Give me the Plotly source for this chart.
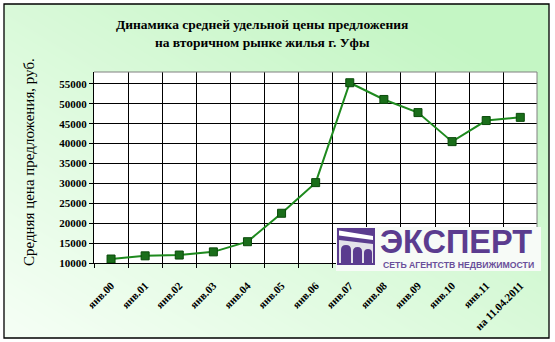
import base64, struct, zlib
import plotly.graph_objects as go

# ---------------- data ----------------
categories = ["янв.00", "янв.01", "янв.02", "янв.03", "янв.04", "янв.05", "янв.06",
              "янв.07", "янв.08", "янв.09", "янв.10", "янв.11", "на 11.04.2011"]
prices = [11000, 11800, 12000, 12800, 15350, 22500, 30200,
          55300, 51100, 47800, 40500, 45800, 46600]
y_ticks = [10000, 15000, 20000, 25000, 30000, 35000, 40000, 45000, 50000, 55000]

title_lines = ["Динамика средней удельной цены предложения",
               "на вторичном рынке жилья г. Уфы"]
y_title = "Средняя цена предложения, руб."

# ---------------- geometry helpers ----------------
W, H = 555, 342
PL, PR, PT, PB = 94, 537, 72, 263
FX0, FX1, FY0, FY1 = 4, 549, 4, 338


def px(x):
    return (x - PL) / (PR - PL)


def py(y):
    return (PB - y) / (PB - PT)


# ---------------- gradient background png (white hole for plot area) ----------------
def make_png():
    w, h = FX1 - FX0, FY1 - FY0
    c0 = (246, 255, 246)
    c1 = (196, 246, 196)
    rows = []
    for j in range(h):
        row = bytearray([0])
        ay = FY0 + j
        for i in range(w):
            ax = FX0 + i
            if PL <= ax < PR and PT <= ay < PB:
                row += b"\xff\xff\xff"
                continue
            t = 0.5 * (i / (w - 1)) + 0.5 * (1 - j / (h - 1))
            t = min(1.0, max(0.0, t * 1.15))
            row += bytes(int(c0[k] + (c1[k] - c0[k]) * t) for k in range(3))
        rows.append(bytes(row))
    raw = b"".join(rows)

    def chunk(tag, data):
        return struct.pack(">I", len(data)) + tag + data + struct.pack(">I", zlib.crc32(tag + data) & 0xffffffff)

    return (b"\x89PNG\r\n\x1a\n" + chunk(b"IHDR", struct.pack(">IIBBBBB", w, h, 8, 2, 0, 0, 0))
            + chunk(b"IDAT", zlib.compress(raw, 9)) + chunk(b"IEND", b""))


bg_src = "data:image/png;base64," + base64.b64encode(make_png()).decode()

serif = "Liberation Serif"
sans = "Liberation Sans"
purple = "#5b3c8f"

x_idx = list(range(len(categories)))

fig = go.Figure()
fig.add_trace(go.Scatter(
    x=x_idx, y=prices, mode="lines+markers",
    line=dict(color="#1e8a1e", width=2),
    marker=dict(symbol="square", size=8, color="#1a6e1a", line=dict(color="#0a4a0a", width=1)),
    hoverinfo="skip", showlegend=False,
))

shapes = []
# outer frame
shapes.append(dict(type="rect", xref="paper", yref="paper", x0=px(FX0), x1=px(FX1), y0=py(FY1), y1=py(FY0),
                   line=dict(color="black", width=1.3), layer="above"))
# plot area border (top, right)
shapes.append(dict(type="line", xref="paper", yref="paper", x0=0, x1=1, y0=1, y1=1,
                   line=dict(color="#808080", width=1), layer="above"))
shapes.append(dict(type="line", xref="paper", yref="paper", x0=1, x1=1, y0=0, y1=1,
                   line=dict(color="#808080", width=1), layer="above"))

# ---- logo ----
shapes.append(dict(type="rect", xref="paper", yref="paper", x0=px(336), x1=px(541), y0=py(271), y1=py(227),
                   fillcolor="#f7fbf7", line=dict(width=0), layer="above"))
shapes.append(dict(type="rect", xref="paper", yref="paper", x0=px(337), x1=px(375), y0=py(265), y1=py(228),
                   fillcolor=purple, line=dict(width=0), layer="above"))


def path(points):
    return "M " + " L ".join(f"{px(a):.5f},{py(b):.5f}" for a, b in points) + " Z"


shapes.append(dict(type="path", xref="paper", yref="paper",
                   path=path([(339, 230.5), (373, 236), (373, 240), (339, 235.5)]),
                   fillcolor="#ffffff", line=dict(width=0), layer="above"))
shapes.append(dict(type="path", xref="paper", yref="paper",
                   path=path([(339, 240), (373, 244), (373, 263), (339, 263)]),
                   fillcolor="#e4e2ea", line=dict(width=0), layer="above"))


def arch(x0, x1, ytop, ybot):
    xc = (x0 + x1) / 2
    r = (x1 - x0) / 2
    ym = ytop + r
    return (f"M {px(x0):.5f},{py(ybot):.5f} L {px(x0):.5f},{py(ym):.5f} "
            f"Q {px(x0):.5f},{py(ytop):.5f} {px(xc):.5f},{py(ytop):.5f} "
            f"Q {px(x1):.5f},{py(ytop):.5f} {px(x1):.5f},{py(ym):.5f} "
            f"L {px(x1):.5f},{py(ybot):.5f} Z")


for a0, a1, top in [(341, 351, 245), (353, 362, 247), (364, 372, 249)]:
    shapes.append(dict(type="path", xref="paper", yref="paper", path=arch(a0, a1, top, 263),
                       fillcolor=purple, line=dict(width=0), layer="above"))

annotations = [
    dict(text="<br>".join(title_lines), xref="paper", yref="paper", x=px(262), y=py(34),
         xanchor="center", yanchor="middle", showarrow=False,
         font=dict(family=serif, size=13.5, color="black", weight="bold")),
    dict(text=y_title, xref="paper", yref="paper", x=px(29), y=py(162), textangle=-90,
         xanchor="center", yanchor="middle", showarrow=False,
         font=dict(family=serif, size=15, color="black")),
    dict(text="ЭКСПЕРТ", xref="paper", yref="paper", x=px(378), y=py(242),
         xanchor="left", yanchor="middle", showarrow=False,
         font=dict(family=sans, size=32.5, color=purple, weight="bold")),
    dict(text="СЕТЬ АГЕНТСТВ НЕДВИЖИМОСТИ", xref="paper", yref="paper", x=px(381), y=py(264.5),
         xanchor="left", yanchor="middle", showarrow=False,
         font=dict(family=sans, size=8.7, color="#6a4f9a", weight="bold")),
]

fig.update_layout(
    width=W, height=H,
    margin=dict(l=PL, r=W - PR, t=PT, b=H - PB, autoexpand=False),
    paper_bgcolor="white", plot_bgcolor="white",
    shapes=shapes, annotations=annotations,
    images=[dict(source=bg_src, xref="paper", yref="paper", x=px(FX0), y=py(FY0),
                 sizex=px(FX1) - px(FX0), sizey=py(FY0) - py(FY1), sizing="stretch",
                 xanchor="left", yanchor="top", layer="below")],
    xaxis=dict(range=[-0.5, 12.49], tickmode="array", tickvals=x_idx, ticktext=categories,
               tickangle=-45, ticks="", showgrid=False, zeroline=False,
               showline=True, linecolor="black", linewidth=1, automargin=False,
               ticklabelstandoff=11,
               tickfont=dict(family=serif, size=11, color="black", weight="bold"),
               minor=dict(tick0=-0.5, dtick=1, showgrid=True, gridcolor="black", gridwidth=1,
                          ticks="outside", ticklen=4, tickcolor="black")),
    yaxis=dict(range=[10000, 58000], tickmode="array", tickvals=y_ticks,
               ticktext=[str(v) for v in y_ticks],
               ticks="outside", ticklen=4, tickcolor="black",
               showgrid=True, gridcolor="black", gridwidth=1, zeroline=False,
               showline=True, linecolor="black", linewidth=1, automargin=False,
               tickfont=dict(family=serif, size=11, color="black", weight="bold")),
)

fig.write_html("out.html")
